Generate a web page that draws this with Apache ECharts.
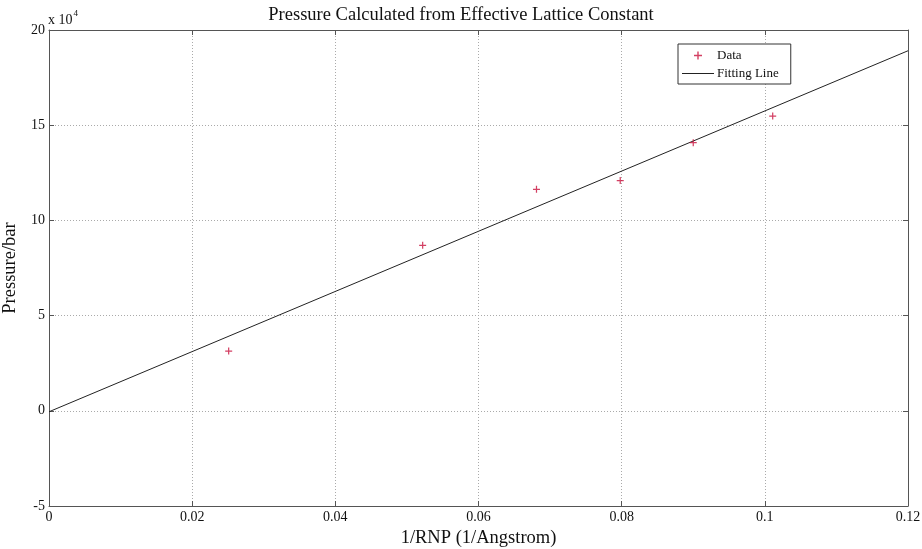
<!DOCTYPE html>
<html>
<head>
<meta charset="utf-8">
<title>Pressure Calculated from Effective Lattice Constant</title>
<script src="https://cdn.jsdelivr.net/npm/echarts@6/dist/echarts.min.js"></script>
<style>
  html, body { margin: 0; padding: 0; background: #fff; }
  #chart { width: 922px; height: 549px; }
</style>
</head>
<body>
<div id="chart"></div>
<script>
// measured points, pressure in units of 10^4 bar
const rnpInv = [0.0251, 0.0522, 0.0681, 0.0798, 0.0900, 0.1011];
const pressure = [3.14, 8.69, 11.63, 12.09, 14.08, 15.48];
// fitting line endpoints
const fitX = [0, 0.12];
const fitY = [-0.05, 18.91];

const serif = '"Liberation Serif", "Times New Roman", serif';
const axisColor = '#555';

const chart = echarts.init(document.getElementById('chart'));

// asterisk-ish marker like matlab '*'
const star = 'path://M-0.7,-4 L0.7,-4 L0.7,-0.7 L4,-0.7 L4,0.7 L0.7,0.7 L0.7,4 L-0.7,4 L-0.7,0.7 L-4,0.7 L-4,-0.7 L-0.7,-0.7 Z';
const dash = 'path://M0,0 L32,0 L32,1 L0,1 Z';

const inner = {
  axisLine: { show: true, onZero: false, lineStyle: { color: axisColor, width: 1 } },
  axisTick: { show: true, inside: true, length: 5, lineStyle: { color: axisColor } },
};

chart.setOption({
  animation: false,
  backgroundColor: '#fff',
  title: {
    text: 'Pressure Calculated from Effective Lattice Constant',
    left: 'center',
    top: 1,
    textStyle: { fontFamily: serif, fontSize: 18.5, fontWeight: 'normal', color: '#111' }
  },
  grid: { left: 49, right: 14, top: 30, bottom: 43, outerBoundsMode: 'none' },
  legend: {
    orient: 'vertical',
    left: 678,
    top: 44,
    padding: [5, 12, 4, 4],
    itemGap: 5,
    itemWidth: 32,
    itemHeight: 8,
    borderColor: '#333',
    borderWidth: 1,
    borderRadius: 0,
    backgroundColor: '#fff',
    textStyle: { fontFamily: serif, fontSize: 13, color: '#111', padding: [0, 0, 0, -2] },
    data: [
      { name: 'Data' },
      { name: 'Fitting Line', icon: dash }
    ]
  },
  xAxis: [
    Object.assign({
      type: 'value',
      min: 0,
      max: 0.12,
      interval: 0.02,
      name: '1/RNP (1/Angstrom)',
      nameLocation: 'middle',
      nameGap: 22,
      nameTextStyle: { fontFamily: serif, fontSize: 18.5, color: '#111' },
      axisLabel: { fontFamily: serif, fontSize: 14, color: '#111', margin: 4 },
      splitLine: { show: true, lineStyle: { color: '#aaa', type: [1, 2], width: 1 } }
    }, inner),
    Object.assign({
      type: 'value', position: 'top', min: 0, max: 0.12, interval: 0.02,
      axisLabel: { show: false }, splitLine: { show: false }
    }, inner)
  ],
  yAxis: [
    Object.assign({
      type: 'value',
      min: -5,
      max: 20,
      interval: 5,
      name: 'Pressure/bar',
      nameLocation: 'middle',
      nameGap: 24,
      nameTextStyle: { fontFamily: serif, fontSize: 18.5, color: '#111' },
      axisLabel: { fontFamily: serif, fontSize: 14, color: '#111', margin: 4 },
      splitLine: { show: true, lineStyle: { color: '#aaa', type: [1, 2], width: 1 } }
    }, inner),
    Object.assign({
      type: 'value', position: 'right', min: -5, max: 20, interval: 5,
      axisLabel: { show: false }, splitLine: { show: false }
    }, inner)
  ],
  graphic: [{
    type: 'text',
    left: 48,
    top: 9,
    style: {
      text: '{b|x 10}{s|4}',
      rich: {
        b: { fontFamily: serif, fontSize: 14, fill: '#111', padding: [8, 0, 0, 0] },
        s: { fontFamily: serif, fontSize: 9, fill: '#111', padding: [0, 0, 6, 1] }
      }
    }
  }],
  series: [
    {
      name: 'Data',
      type: 'scatter',
      symbol: star,
      symbolSize: 7,
      itemStyle: { color: '#c8103c' },
      data: rnpInv.map((x, i) => [x, pressure[i]]),
      z: 5
    },
    {
      name: 'Fitting Line',
      type: 'line',
      symbol: 'none',
      lineStyle: { color: '#222', width: 1 },
      itemStyle: { color: '#222' },
      data: fitX.map((x, i) => [x, fitY[i]])
    }
  ]
});
</script>
</body>
</html>
